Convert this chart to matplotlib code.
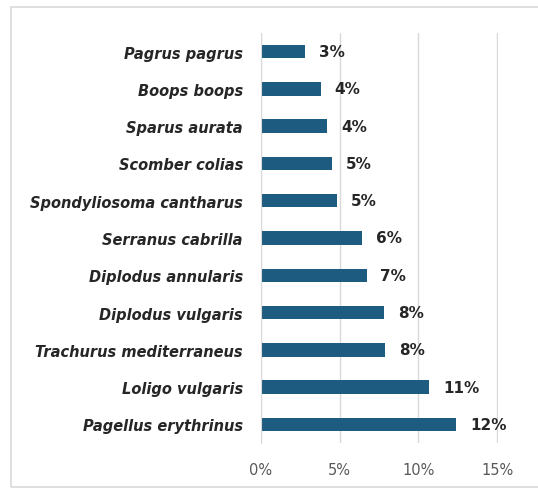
import matplotlib.pyplot as plt
from matplotlib.patches import Rectangle

species = ['Pagrus pagrus', 'Boops boops', 'Sparus aurata', 'Scomber colias',
           'Spondyliosoma cantharus', 'Serranus cabrilla', 'Diplodus annularis',
           'Diplodus vulgaris', 'Trachurus mediterraneus', 'Loligo vulgaris',
           'Pagellus erythrinus']
share = [2.8, 3.8, 4.2, 4.5, 4.85, 6.4, 6.7, 7.8, 7.9, 10.7, 12.4]
labels = ['3%', '4%', '4%', '5%', '5%', '6%', '7%', '8%', '8%', '11%', '12%']
xticks = [0, 5, 10, 15]

fig = plt.figure(figsize=(5.38, 4.89), dpi=100)
fig.patches.append(Rectangle((11/538, 1 - 488/489), 1.0, 480/489,
                             transform=fig.transFigure, fill=False,
                             edgecolor='#d9d9d9', linewidth=1.2))

ax = fig.add_axes([261/538, 1 - 444/489, (498 - 261)/538, (444 - 34)/489])

pos = list(range(len(species)))
ax.barh(pos, share, height=0.36, color='#1d5c80')
ax.set_ylim(len(species) - 0.5, -0.5)
ax.set_xlim(0, 15.05)

for p, v, t in zip(pos, share, labels):
    ax.annotate(t, (v, p), xytext=(10, 0), textcoords='offset points',
                va='center', ha='left', fontsize=11, fontweight='bold',
                color='#262626')

ax.set_yticks(pos)
ax.set_yticklabels(species, fontsize=10.5, fontweight='bold', style='italic',
                   color='#262626')
ax.set_xticks(xticks)
ax.set_xticklabels([f'{x}%' for x in xticks], fontsize=10.5, color='#595959')
ax.tick_params(axis='both', length=0)
ax.tick_params(axis='y', pad=13)
ax.tick_params(axis='x', pad=14)

ax.grid(axis='x', color='#d9d9d9', linewidth=1)
ax.set_axisbelow(True)
for s in ['top', 'right', 'bottom']:
    ax.spines[s].set_visible(False)
ax.spines['left'].set_color('#d9d9d9')

fig.savefig('out.png', dpi=100)
